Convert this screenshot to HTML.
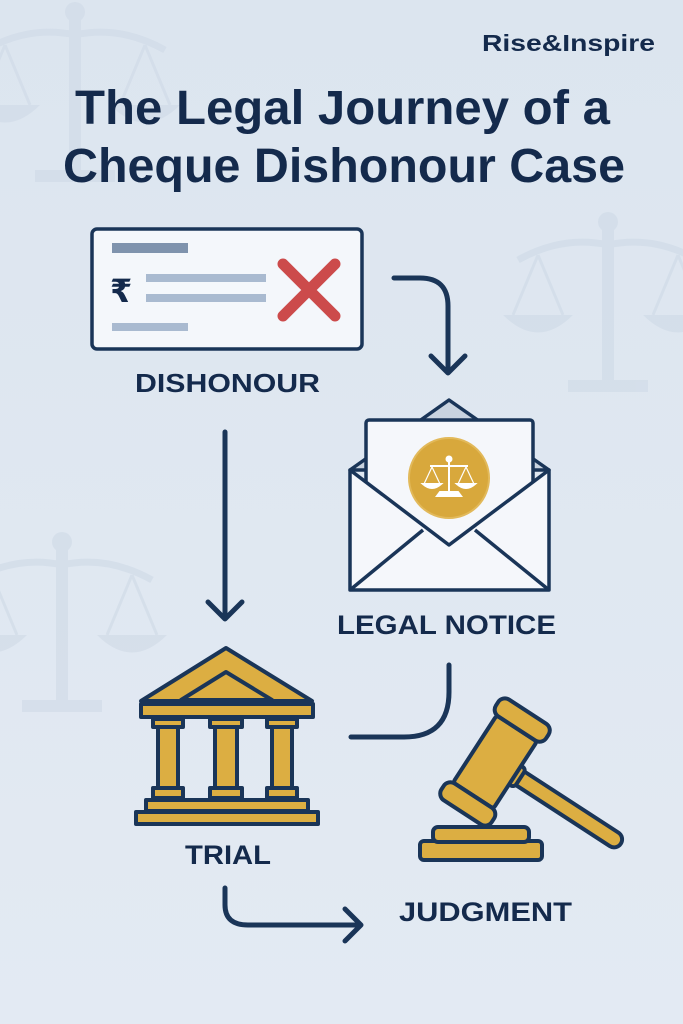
<!DOCTYPE html>
<html><head><meta charset="utf-8"><style>
html,body{margin:0;padding:0;background:#dfe7f1;}
svg{display:block}
text{font-family:"Liberation Sans",sans-serif;font-weight:bold;fill:#142a4c}
</style></head><body>
<svg width="683" height="1024" viewBox="0 0 683 1024" xmlns="http://www.w3.org/2000/svg">
<defs>
<linearGradient id="bg" x1="0" y1="0" x2="0" y2="1"><stop offset="0" stop-color="#dce5ef"/><stop offset="1" stop-color="#e3eaf3"/></linearGradient>
<g id="scale" fill="#cfdae7" stroke="#cfdae7">
<rect x="-6" y="-40" width="12" height="150" stroke="none"/>
<circle cx="0" cy="-48" r="10" stroke="none"/>
<path d="M-90 -10 Q-45 -35 0 -25 Q45 -35 90 -10" fill="none" stroke-width="7"/>
<path d="M-70 -15 L-95 45 M-70 -15 L-45 45 M70 -15 L45 45 M70 -15 L95 45" fill="none" stroke-width="3"/>
<path d="M-105 45 Q-70 80 -35 45 Z M35 45 Q70 80 105 45 Z" stroke="none"/>
<rect x="-40" y="110" width="80" height="12" stroke="none"/>
</g>
</defs>
<rect width="683" height="1024" fill="url(#bg)"/>
<use href="#scale" transform="translate(75,60)" opacity="0.6"/>
<use href="#scale" transform="translate(608,270)" opacity="0.6"/>
<use href="#scale" transform="translate(62,590)" opacity="0.6"/>

<text x="482" y="51" font-size="23" textLength="173" lengthAdjust="spacingAndGlyphs">Rise&amp;Inspire</text>
<text x="75" y="124" font-size="48" textLength="535" lengthAdjust="spacingAndGlyphs">The Legal Journey of a</text>
<text x="63" y="182" font-size="48" textLength="562" lengthAdjust="spacingAndGlyphs">Cheque Dishonour Case</text>

<!-- cheque -->
<rect x="92" y="229" width="270" height="120" rx="5" fill="#f4f7fb" stroke="#1a3558" stroke-width="3.5"/>
<rect x="112" y="243" width="76" height="10" fill="#7f93ad"/>
<rect x="146" y="274" width="120" height="8" fill="#a9bad0"/>
<rect x="146" y="294" width="120" height="8" fill="#a9bad0"/>
<rect x="112" y="323" width="76" height="8" fill="#a9bad0"/>
<text x="110" y="302" font-size="32" font-weight="normal" style="font-family:'DejaVu Sans',sans-serif">₹</text>
<path d="M283 264 L335 316 M335 264 L283 316" stroke="#cc4b4b" stroke-width="11" stroke-linecap="round"/>
<text x="135" y="392" font-size="26" textLength="185" lengthAdjust="spacingAndGlyphs">DISHONOUR</text>

<g fill="none" stroke="#1a3558" stroke-width="5" stroke-linecap="round" stroke-linejoin="round">
<path d="M394 278 L420 278 Q448 278 448 306 L448 372"/>
<path d="M431 356 L448 373 L465 356"/>
<path d="M225 432 L225 618"/>
<path d="M208 602 L225 619 L242 602"/>
<path d="M449 665 L449 692 Q449 737 404 737 L351 737"/>
<path d="M225 888 L225 905 Q225 925 248 925 L360 925"/>
<path d="M345 909 L361 925 L345 941"/>
</g>

<!-- envelope -->
<path d="M350 470 L449 400 L549 470 Z" fill="#c9d3df" stroke="#1a3558" stroke-width="3.5" stroke-linejoin="round"/>
<rect x="366" y="420" width="167" height="130" rx="3" fill="#f5f7fb" stroke="#1a3558" stroke-width="3.5"/>
<circle cx="449" cy="478" r="40" fill="#d8a83c" stroke="#e2b95a" stroke-width="2"/>
<g stroke="#fff" stroke-width="2" fill="#fff">
<path d="M449 460 L449 494 M430 466 L468 466" fill="none"/>
<path d="M432 467 L424 484 M432 467 L440 484 M466 467 L458 484 M466 467 L474 484" fill="none" stroke-width="1.2"/>
<path d="M423 484 Q432 492 441 484 Z M457 484 Q466 492 475 484 Z M437 496 L461 496 L458 492 L440 492 Z"/>
<circle cx="449" cy="459" r="2.5"/>
</g>
<path d="M350 470 L449 545 L549 470 L549 590 L350 590 Z" fill="#f5f7fb" stroke="#1a3558" stroke-width="3.5" stroke-linejoin="round"/>
<path d="M350 590 L423 530 M549 590 L475 530" stroke="#1a3558" stroke-width="3.5" fill="none"/>
<text x="337" y="634" font-size="27" textLength="219" lengthAdjust="spacingAndGlyphs">LEGAL NOTICE</text>

<!-- courthouse -->
<g fill="#dcae42" stroke="#1a3558" stroke-width="4" stroke-linejoin="round">
<path d="M141 701 L226 648 L312 701 Z"/>
<path d="M181 700 L226 672 L272 700 Z"/>
<rect x="141" y="704" width="172" height="13"/>
<rect x="153" y="719" width="30" height="8"/><rect x="158" y="727" width="20" height="66"/><rect x="153" y="788" width="30" height="10"/>
<rect x="210" y="719" width="32" height="8"/><rect x="215" y="727" width="22" height="66"/><rect x="210" y="788" width="32" height="10"/>
<rect x="267" y="719" width="30" height="8"/><rect x="272" y="727" width="20" height="66"/><rect x="267" y="788" width="30" height="10"/>
<rect x="146" y="800" width="162" height="11"/>
<rect x="136" y="812" width="182" height="12"/>
</g>
<text x="185" y="864" font-size="27" textLength="86" lengthAdjust="spacingAndGlyphs">TRIAL</text>

<!-- gavel -->
<g fill="#dcae42" stroke="#1a3558" stroke-width="4" stroke-linejoin="round">
<rect x="420" y="841" width="122" height="19" rx="4"/>
<rect x="433" y="827" width="96" height="15" rx="5"/>
<g transform="translate(495,762) rotate(33)">
<rect x="22" y="-8" width="128" height="16" rx="8"/>
<rect x="14" y="-11" width="16" height="22" rx="4"/>
<rect x="-24" y="-40" width="48" height="80" rx="3"/>
<rect x="-30" y="-60" width="60" height="20" rx="8"/>
<rect x="-30" y="40" width="60" height="20" rx="8"/>
</g>
</g>
<text x="399" y="921" font-size="27" textLength="173" lengthAdjust="spacingAndGlyphs">JUDGMENT</text>
</svg>
</body></html>
